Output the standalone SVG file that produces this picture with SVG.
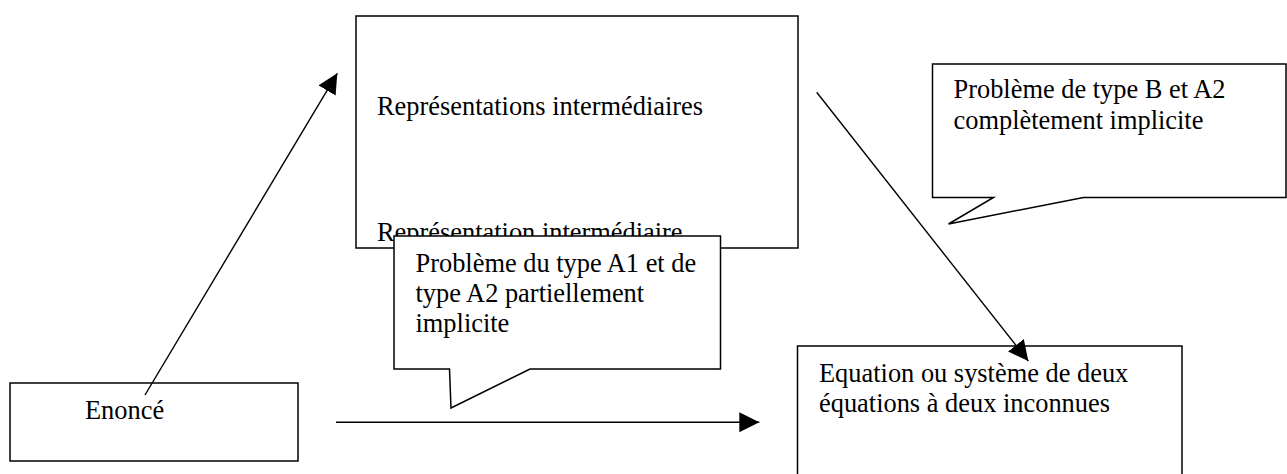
<svg xmlns="http://www.w3.org/2000/svg" width="1287" height="474" viewBox="0 0 1287 474">
<style>
.box{fill:#fff;stroke:#000;stroke-width:1.5}
.t{font-family:"Liberation Serif","Times New Roman",serif;font-size:26.4px;fill:#000}
.c{stroke:#000;stroke-width:1.4;fill:none}
</style>
<defs>
<marker id="ah" markerUnits="userSpaceOnUse" markerWidth="22" markerHeight="22" refX="20" refY="10" orient="auto" viewBox="0 0 22 22">
<path d="M0,0 L20,10 L0,20 z" fill="#000"/>
</marker>
</defs>
<rect width="1287" height="474" fill="#fff"/>
<g id="node-representations">
<rect class="box" x="356" y="16" width="442" height="232"/>
<text class="t" x="377" y="115">Représentations intermédiaires</text>
<text class="t" x="377" y="241">Représentation intermédiaire</text>
</g>
<g id="node-enonce">
<rect class="box" x="10" y="383" width="288" height="78"/>
<text class="t" x="85" y="419">Enoncé</text>
</g>
<g id="node-equation">
<rect class="box" x="797.5" y="346" width="384.5" height="140"/>
<text class="t" x="819" y="382">Equation ou système de deux</text>
<text class="t" x="819" y="412">équations à deux inconnues</text>
</g>
<g id="callout-a">
<path class="box" d="M394,236 L720.5,236 L720.5,369 L530,369 L451,408 L449.5,369 L394,369 Z"/>
<text class="t" x="415.5" y="272">Problème du type A1 et de</text>
<text class="t" x="415.5" y="302">type A2 partiellement</text>
<text class="t" x="415.5" y="332">implicite</text>
</g>
<g id="callout-b">
<path class="box" d="M932.5,64 L1286,64 L1286,197.5 L1083.5,197.5 L948.5,224 L993.5,197.5 L932.5,197.5 Z"/>
<text class="t" x="953.5" y="98">Problème de type B et A2</text>
<text class="t" x="953.5" y="129">complètement implicite</text>
</g>
<g id="connectors">
<line class="c" x1="145" y1="395" x2="337.3" y2="73.3" marker-end="url(#ah)"/>
<line class="c" x1="336" y1="422.3" x2="759.3" y2="422.3" marker-end="url(#ah)"/>
<line class="c" x1="816.7" y1="92.3" x2="1028.3" y2="361" marker-end="url(#ah)"/>
</g>
</svg>
